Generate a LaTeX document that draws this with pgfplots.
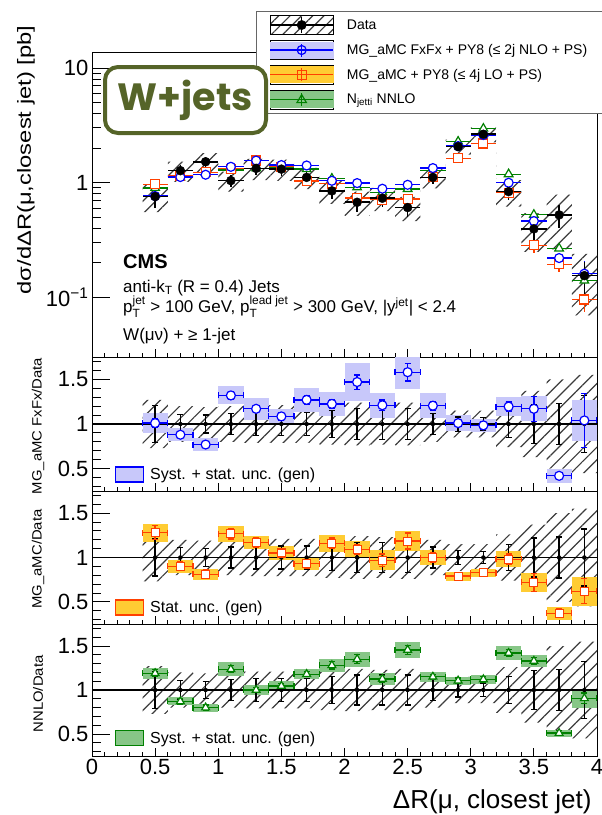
\documentclass[border=0pt]{standalone}
\usepackage{amsmath}
\usepackage{fontspec}
\setmainfont{Liberation Sans}
\newfontfamily\poppins{Poppins}
\newfontfamily\ylabfont[FakeStretch=1.25]{Liberation Sans}
\newfontfamily\rlabfont[FakeStretch=1.1]{Liberation Sans}
\usepackage{pgfplots}
\pgfplotsset{compat=1.18}
\usepackage{pgfplotstable}
\usepgfplotslibrary{fillbetween}
\usetikzlibrary{patterns.meta}
\newcommand\fs[1]{\fontsize{#1}{#1}\selectfont}

\definecolor{cblue}{RGB}{0,0,255}
\definecolor{bblue}{RGB}{200,200,250}
\definecolor{cred}{RGB}{255,64,0}
\definecolor{borange}{RGB}{255,204,51}
\definecolor{cgreen}{RGB}{0,128,0}
\definecolor{bgreen}{RGB}{135,198,135}
\definecolor{hatch}{RGB}{60,60,60}
\definecolor{olive}{RGB}{85,100,40}

% x: bin centre; y: data; s: data stat. rel. unc.; u: data total rel. unc.
% rf/ef/bf: FxFx ratio, its error bar, band half-height; rl/el/bl: LO; rn/en/bn: NNLO
\pgfplotstableread{
x y s u rf ef bf rl el bl rn en bn
0.5 0.755 0.21 0.27 1.01 0.05 0.11 1.28 0.08 0.10 1.19 0.04 0.06
0.7 1.27 0.11 0.20 0.88 0.03 0.074 0.90 0.05 0.07 0.87 0.03 0.045
0.9 1.52 0.10 0.19 0.77 0.03 0.07 0.81 0.05 0.06 0.80 0.03 0.045
1.1 1.04 0.12 0.20 1.32 0.04 0.10 1.27 0.06 0.09 1.235 0.04 0.08
1.3 1.33 0.13 0.21 1.17 0.04 0.12 1.17 0.05 0.07 1.00 0.03 0.057
1.5 1.31 0.13 0.21 1.085 0.04 0.08 1.05 0.05 0.075 1.045 0.03 0.06
1.7 1.11 0.13 0.21 1.27 0.05 0.135 0.93 0.05 0.075 1.18 0.03 0.06
1.9 0.846 0.15 0.23 1.225 0.05 0.13 1.16 0.06 0.095 1.28 0.04 0.075
2.1 0.673 0.17 0.24 1.47 0.08 0.21 1.09 0.06 0.10 1.35 0.05 0.085
2.3 0.73 0.17 0.23 1.21 0.06 0.14 0.97 0.07 0.11 1.125 0.04 0.066
2.5 0.605 0.17 0.24 1.58 0.10 0.185 1.185 0.09 0.11 1.455 0.05 0.09
2.7 1.11 0.12 0.20 1.205 0.05 0.14 1.00 0.05 0.08 1.15 0.03 0.057
2.9 2.06 0.08 0.15 1.01 0.04 0.09 0.79 0.03 0.05 1.106 0.03 0.047
3.1 2.64 0.07 0.15 0.985 0.04 0.075 0.83 0.03 0.045 1.12 0.03 0.05
3.3 0.834 0.15 0.26 1.195 0.05 0.105 0.98 0.06 0.09 1.42 0.04 0.075
3.5 0.394 0.22 0.37 1.17 0.14 0.14 0.72 0.10 0.11 1.33 0.04 0.07
3.7 0.522 0.23 0.50 0.42 0.04 0.08 0.37 0.05 0.075 0.51 0.03 0.04
3.9 0.154 0.32 0.55 1.04 0.30 0.225 0.62 0.14 0.165 0.905 0.06 0.11
}\data

% bin left edges for the data uncertainty band (last row closes the last bin)
\pgfplotstableread{
xl y u
0.4 0.755 0.27
0.6 1.27 0.20
0.8 1.52 0.19
1.0 1.04 0.20
1.2 1.33 0.21
1.4 1.31 0.21
1.6 1.11 0.21
1.8 0.846 0.23
2.0 0.673 0.24
2.2 0.73 0.23
2.4 0.605 0.24
2.6 1.11 0.20
2.8 2.06 0.15
3.0 2.64 0.15
3.2 0.834 0.26
3.4 0.394 0.37
3.6 0.522 0.50
3.8 0.154 0.55
4.0 0.154 0.55
}\htab

\pgfplotsset{
  cms/.style={
    scale only axis, width=505pt, xmin=0, xmax=4,
    axis line style={line width=1pt},
    tick style={line width=0.9pt, black},
    tick align=inside, tick pos=left,
    xtick={0,0.5,...,4}, minor x tick num=4,
    xtick style={/pgfplots/major tick length=8pt, /pgfplots/minor tick length=4pt},
    ytick style={/pgfplots/major tick length=18pt, /pgfplots/minor tick length=9pt},
    ticklabel style={font=\fs{22}},
    /pgf/number format/assume math mode=true,
    legend cell align=left,
  },
  ratio/.style={cms, ymin=0.25, ymax=1.75, ytick={0.5,1,1.5}, yticklabels={0.5,1,1.5},
    minor ytick={0.3,0.4,0.6,0.7,0.8,0.9,1.1,1.2,1.3,1.4,1.6,1.7}},
  hatchstyle/.style={draw=none, pattern={Lines[angle=45,distance=9pt,line width=1.2pt]}, pattern color=hatch},
  rlegend/.style={legend style={at={(axis description cs:0.045,#1)}, anchor=west, draw=none, fill=none,
    inner sep=0pt, font=\fs{16}, column sep=5pt, nodes={inner sep=1pt, anchor=west}}},
  rylabel/.style={every axis y label/.style={at={(axis description cs:-0.1069,#1)}, rotate=90, anchor=center, font=\rlabfont\fs{13.5}}},
  band/.style={forget plot, only marks, mark=none, error bars/.cd, y dir=both, y explicit, error mark=none,
    error bar style={line width=25.25pt, line cap=butt, draw=#1}},
  rdata/.style={forget plot, only marks, mark=none, black, error bars/.cd, y dir=both, y explicit,
    error bar style={line width=1.3pt, black}, error mark=-, error mark options={rotate=90, mark size=3pt, line width=1.3pt, black}},
  rmcerr/.style={forget plot, only marks, mark=none, color=#1,
    error bars/.cd, x dir=both, x fixed=0.1, y dir=both, y explicit,
    error bar style={line width=1.3pt, #1}, error mark=-, error mark options={rotate=90, mark size=3pt, line width=1.3pt, #1}},
  mmcerr/.style={forget plot, only marks, mark=none, color=#1,
    error bars/.cd, x dir=both, x fixed=0.1, y dir=both, y explicit,
    error bar style={line width=1.3pt, #1}, error mark=none},
  mk/.style n args={3}{forget plot, only marks, color=#1, mark=#2, mark size=#3, mark options={fill=white, draw=#1, line width=1.2pt, solid}},
}

\begin{document}
\begin{tikzpicture}

% ---------------- main panel ----------------
\begin{axis}[cms, name=main, at={(92pt,-52pt)}, anchor=north west, height=305pt,
  ymode=log, ymin=0.03, ymax=13.8, ytick={0.1,1,10}, yticklabels={10\textsuperscript{−1},1,10},
  xticklabels={},
  ylabel={dσ/dΔR(μ,closest jet)  [pb]},
  every axis y label/.style={at={(axis description cs:-0.131,0.646)}, rotate=90, anchor=center, font=\ylabfont\fs{19}},
  legend style={at={(axis description cs:0.3248,1.1344)}, anchor=north west, draw=black!60, line width=0.8pt, fill=white,
    inner xsep=13pt, inner ysep=3.5pt, row sep=5pt, column sep=13pt, font=\fs{14}, nodes={inner sep=0pt, anchor=west}},
]
\addplot[name path=mhu, draw=none, const plot mark left, forget plot] table[x=xl, y expr=\thisrow{y}*(1+\thisrow{u})] {\htab};
\addplot[name path=mhl, draw=none, const plot mark left, forget plot] table[x=xl, y expr=\thisrow{y}*(1-\thisrow{u})] {\htab};
\addplot[hatchstyle, forget plot] fill between[of=mhu and mhl];

\addplot[mmcerr=cgreen] table[x=x, y expr=\thisrow{rn}*\thisrow{y}, y error expr=\thisrow{en}*\thisrow{y}] {\data};
\addplot[mk={cgreen}{triangle*}{5pt}] table[x=x, y expr=\thisrow{rn}*\thisrow{y}] {\data};
\addplot[mmcerr=cred] table[x=x, y expr=\thisrow{rl}*\thisrow{y}, y error expr=\thisrow{el}*\thisrow{y}] {\data};
\addplot[mk={cred}{square*}{4.5pt}] table[x=x, y expr=\thisrow{rl}*\thisrow{y}] {\data};
\addplot[mmcerr=cblue] table[x=x, y expr=\thisrow{rf}*\thisrow{y}, y error expr=\thisrow{ef}*\thisrow{y}] {\data};
\addplot[mk={cblue}{*}{4.5pt}] table[x=x, y expr=\thisrow{rf}*\thisrow{y}] {\data};
\addplot[forget plot, only marks, black, mark=*, mark size=4.5pt, error bars/.cd, x dir=both, x fixed=0.1, y dir=both, y explicit,
  error bar style={line width=1.6pt, black}, error mark=none] table[x=x, y=y, y error expr=\thisrow{s}*\thisrow{y}] {\data};

\addlegendimage{legend image code/.code={
  \path (0pt,-9.5pt) rectangle (63pt,9.5pt);
  \fill[pattern={Lines[angle=45,distance=8pt,line width=1.2pt]}, pattern color=hatch] (0pt,-9.5pt) rectangle (63pt,9.5pt);
  \draw[black, line width=1.5pt] (0pt,0pt) -- (63pt,0pt);
  \draw[black, line width=1.5pt] (31.5pt,-8pt) -- (31.5pt,8pt);
  \fill[black] (31.5pt,0pt) circle (4.5pt);}}
\addlegendentry{Data}
\addlegendimage{legend image code/.code={
  \path (0pt,-9.5pt) rectangle (63pt,9.5pt);
  \fill[bblue] (0pt,-8pt) rectangle (63pt,8pt);
  \draw[cblue, line width=1.3pt] (0pt,0pt) -- (63pt,0pt);
  \draw[cblue, line width=1.3pt] (31.5pt,-6.5pt) -- (31.5pt,6.5pt);
  \draw[cblue, line width=1.2pt] (31.5pt,0pt) circle (4.5pt);}}
\addlegendentry{MG\_aMC FxFx + PY8 (≤ 2j NLO + PS)\hspace*{30pt}}
\addlegendimage{legend image code/.code={
  \path (0pt,-9.5pt) rectangle (63pt,9.5pt);
  \fill[borange] (0pt,-8pt) rectangle (63pt,8pt);
  \draw[cred, line width=1.3pt] (0pt,0pt) -- (63pt,0pt);
  \draw[cred, line width=1.3pt] (31.5pt,-6.5pt) -- (31.5pt,6.5pt);
  \draw[cred, line width=1.2pt] (27pt,-4.5pt) rectangle (36pt,4.5pt);}}
\addlegendentry{MG\_aMC + PY8 (≤ 4j LO + PS)}
\addlegendimage{legend image code/.code={
  \path (0pt,-9.5pt) rectangle (63pt,9.5pt);
  \fill[bgreen] (0pt,-8pt) rectangle (63pt,8pt);
  \draw[cgreen, line width=1.3pt] (0pt,0pt) -- (63pt,0pt);
  \draw[cgreen, line width=1.3pt] (31.5pt,-6.5pt) -- (31.5pt,6.5pt);
  \draw[cgreen, line width=1.2pt] (31.5pt,5pt) -- (26.8pt,-3pt) -- (36.2pt,-3pt) -- cycle;}}
\addlegendentry{N\textsubscript{jetti} NNLO}

\node[anchor=base west, inner sep=0pt, font=\fs{17.5}] at (axis description cs:0,1) [yshift=7pt] {2.2 fb\textsuperscript{-1} (13 TeV)};
\node[anchor=base west, inner sep=0pt, font=\bfseries\fs{20}] at (axis description cs:0.0614,0.2918) {CMS};
\node[anchor=base west, inner sep=0pt, font=\fs{17}] at (axis description cs:0.0614,0.2131) {anti-k\textsubscript{T} (R = 0.4) Jets};
\node[anchor=base west, inner sep=0pt, font=\fs{17}] at (axis description cs:0.0614,0.1443) {$\text{p}_{\text{T}}^{\text{jet}}$ > 100 GeV, $\text{p}_{\text{T}}^{\text{lead jet}}$ > 300 GeV, |y\textsuperscript{jet}| < 2.4};
\node[anchor=base west, inner sep=0pt, font=\fs{17}] at (axis description cs:0.0614,0.0557) {W(μν) + ≥ 1-jet};
\end{axis}

% ---------------- ratio 1 : FxFx ----------------
\begin{axis}[ratio, name=r1, at={(92pt,-357pt)}, anchor=north west, height=134pt, xticklabels={},
  ylabel={MG\_aMC FxFx/Data}, rylabel=0.485, rlegend=0.123]
\addplot[band=bblue] table[x=x, y=rf, y error=bf] {\data};
\addplot[name path=ahu, draw=none, const plot mark left, forget plot] table[x=xl, y expr=1+\thisrow{u}] {\htab};
\addplot[name path=ahl, draw=none, const plot mark left, forget plot] table[x=xl, y expr=1-\thisrow{u}] {\htab};
\addplot[hatchstyle, forget plot] fill between[of=ahu and ahl];
\addplot[forget plot, black, line width=1.6pt] coordinates {(0,1) (4,1)};
\addplot[rdata] table[x=x, y expr=1, y error=s] {\data};
\addplot[rmcerr=cblue] table[x=x, y=rf, y error=ef] {\data};
\addplot[mk={cblue}{*}{4.5pt}] table[x=x, y=rf] {\data};
\addlegendimage{legend image code/.code={\draw[fill=bblue, draw=cblue, line width=1.3pt] (0pt,-7.5pt) rectangle (28pt,7.5pt);}}
\addlegendentry{Syst. + stat. unc. (gen)}
\end{axis}

% ---------------- ratio 2 : LO ----------------
\begin{axis}[ratio, name=r2, at={(92pt,-491pt)}, anchor=north west, height=133pt, xticklabels={},
  ylabel={MG\_aMC/Data}, rylabel=0.489, rlegend=0.124]
\addplot[band=borange] table[x=x, y=rl, y error=bl] {\data};
\addplot[name path=bhu, draw=none, const plot mark left, forget plot] table[x=xl, y expr=1+\thisrow{u}] {\htab};
\addplot[name path=bhl, draw=none, const plot mark left, forget plot] table[x=xl, y expr=1-\thisrow{u}] {\htab};
\addplot[hatchstyle, forget plot] fill between[of=bhu and bhl];
\addplot[forget plot, black, line width=1.6pt] coordinates {(0,1) (4,1)};
\addplot[rdata] table[x=x, y expr=1, y error=s] {\data};
\addplot[rmcerr=cred] table[x=x, y=rl, y error=el] {\data};
\addplot[mk={cred}{square*}{4pt}] table[x=x, y=rl] {\data};
\addlegendimage{legend image code/.code={\draw[fill=borange, draw=cred, line width=1.3pt] (0pt,-7.5pt) rectangle (28pt,7.5pt);}}
\addlegendentry{Stat. unc. (gen)}
\end{axis}

% ---------------- ratio 3 : NNLO ----------------
\begin{axis}[ratio, name=r3, at={(92pt,-624pt)}, anchor=north west, height=132pt,
  xlabel={ΔR(μ, closest jet)},
  every axis x label/.style={at={(axis description cs:1,0)}, anchor=base east, xshift=-2pt, yshift=-52pt, font=\fs{26}},
  ylabel={NNLO/Data}, rylabel=0.47, rlegend=0.136]
\addplot[band=bgreen] table[x=x, y=rn, y error=bn] {\data};
\addplot[name path=chu, draw=none, const plot mark left, forget plot] table[x=xl, y expr=1+\thisrow{u}] {\htab};
\addplot[name path=chl, draw=none, const plot mark left, forget plot] table[x=xl, y expr=1-\thisrow{u}] {\htab};
\addplot[hatchstyle, forget plot] fill between[of=chu and chl];
\addplot[forget plot, black, line width=1.6pt] coordinates {(0,1) (4,1)};
\addplot[rdata] table[x=x, y expr=1, y error=s] {\data};
\addplot[rmcerr=cgreen] table[x=x, y=rn, y error=en] {\data};
\addplot[mk={cgreen}{triangle*}{4.5pt}] table[x=x, y=rn] {\data};
\addlegendimage{legend image code/.code={\draw[fill=bgreen, draw=cgreen, line width=1.3pt] (0pt,-7.5pt) rectangle (28pt,7.5pt);}}
\addlegendentry{Syst. + stat. unc. (gen)}
\end{axis}

\node[draw=olive, line width=4pt, rounded corners=13pt, fill=white, minimum width=161pt, minimum height=66pt,
  text=olive, font=\poppins\bfseries\fs{38}, inner sep=0pt] at (185.5pt,-100pt) {W+jets};
\pgfresetboundingbox
\path[use as bounding box] (0pt,0pt) rectangle (602pt,-815pt);
\end{tikzpicture}
\end{document}
